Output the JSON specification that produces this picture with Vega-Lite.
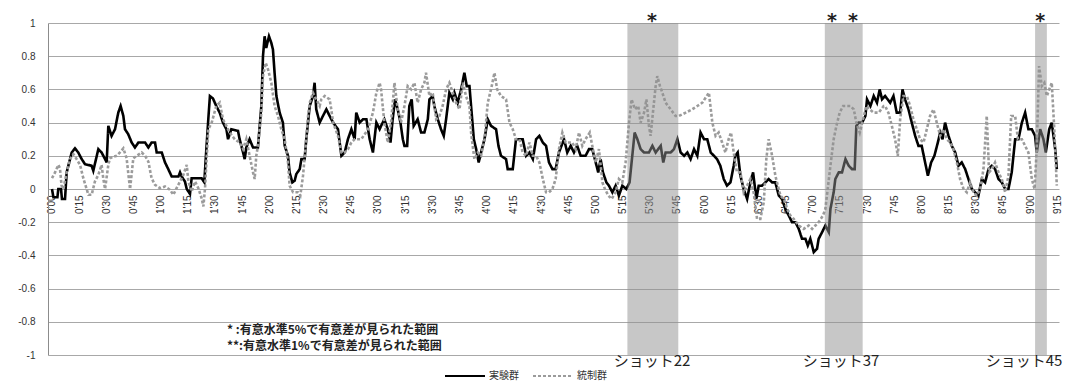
{
"$schema":"https://vega.github.io/schema/vega-lite/v6.json",
"width":1011,"height":332,
"autosize":{"type":"none"},
"padding":{"left":48,"top":23,"right":14,"bottom":30},
"background":"white",
"config":{"view":{"stroke":null},"font":"Liberation Sans"},
"datasets":{
"series":[
{"g":"実験群","t":0,"v":0},{"g":"実験群","t":0.8,"v":-0.05},{"g":"実験群","t":3,"v":-0.05},{"g":"実験群","t":3.5,"v":0},{"g":"実験群","t":5,"v":0},{"g":"実験群","t":5.5,"v":-0.06},{"g":"実験群","t":7.2,"v":-0.06},{"g":"実験群","t":8.1,"v":0.1},{"g":"実験群","t":10.9,"v":0.22},{"g":"実験群","t":12.7,"v":0.245},{"g":"実験群","t":14.5,"v":0.22},{"g":"実験群","t":16.4,"v":0.18},{"g":"実験群","t":18.2,"v":0.15},{"g":"実験群","t":21.9,"v":0.14},{"g":"実験群","t":22.8,"v":0.11},{"g":"実験群","t":25.6,"v":0.24},{"g":"実験群","t":27.4,"v":0.22},{"g":"実験群","t":29.3,"v":0.18},{"g":"実験群","t":30.2,"v":0.16},{"g":"実験群","t":31.1,"v":0.38},{"g":"実験群","t":32.9,"v":0.32},{"g":"実験群","t":34.8,"v":0.36},{"g":"実験群","t":36.6,"v":0.46},{"g":"実験群","t":37.9,"v":0.5},{"g":"実験群","t":39.4,"v":0.44},{"g":"実験群","t":40.3,"v":0.36},{"g":"実験群","t":42.1,"v":0.33},{"g":"実験群","t":44.0,"v":0.28},{"g":"実験群","t":45.8,"v":0.25},{"g":"実験群","t":47.7,"v":0.28},{"g":"実験群","t":51.4,"v":0.28},{"g":"実験群","t":53.2,"v":0.25},{"g":"実験群","t":55.0,"v":0.28},{"g":"実験群","t":56.9,"v":0.28},{"g":"実験群","t":57.8,"v":0.22},{"g":"実験群","t":60.6,"v":0.22},{"g":"実験群","t":62.4,"v":0.16},{"g":"実験群","t":64.2,"v":0.12},{"g":"実験群","t":66.1,"v":0.075},{"g":"実験群","t":69.8,"v":0.075},{"g":"実験群","t":70.7,"v":0.1},{"g":"実験群","t":71.6,"v":0.075},{"g":"実験群","t":73.4,"v":0.045},{"g":"実験群","t":74.4,"v":0},{"g":"実験群","t":76.2,"v":-0.03},{"g":"実験群","t":77.1,"v":0.065},{"g":"実験群","t":82.6,"v":0.065},{"g":"実験群","t":84.1,"v":0.04},{"g":"実験群","t":85.0,"v":0.2},{"g":"実験群","t":86.3,"v":0.42},{"g":"実験群","t":87.2,"v":0.56},
{"g":"実験群","t":88.9,"v":0.545},{"g":"実験群","t":90.7,"v":0.5},{"g":"実験群","t":92.6,"v":0.46},{"g":"実験群","t":94.4,"v":0.4},{"g":"実験群","t":96.3,"v":0.36},{"g":"実験群","t":97.2,"v":0.3},{"g":"実験群","t":99.0,"v":0.36},{"g":"実験群","t":102.7,"v":0.35},{"g":"実験群","t":103.6,"v":0.3},{"g":"実験群","t":105.5,"v":0.22},{"g":"実験群","t":106.4,"v":0.18},{"g":"実験群","t":107.3,"v":0.25},{"g":"実験群","t":109.1,"v":0.3},{"g":"実験群","t":111.0,"v":0.25},{"g":"実験群","t":113.7,"v":0.25},{"g":"実験群","t":115.6,"v":0.5},{"g":"実験群","t":116.5,"v":0.8},{"g":"実験群","t":117.4,"v":0.92},{"g":"実験群","t":118.3,"v":0.85},{"g":"実験群","t":119.8,"v":0.92},{"g":"実験群","t":121.1,"v":0.88},{"g":"実験群","t":122.0,"v":0.84},{"g":"実験群","t":122.9,"v":0.7},{"g":"実験群","t":123.9,"v":0.56},{"g":"実験群","t":125.7,"v":0.46},{"g":"実験群","t":127.5,"v":0.4},{"g":"実験群","t":128.5,"v":0.26},{"g":"実験群","t":130.3,"v":0.2},{"g":"実験群","t":131.2,"v":0.1},{"g":"実験群","t":132.7,"v":0.04},{"g":"実験群","t":134.0,"v":0.05},{"g":"実験群","t":134.9,"v":0.09},{"g":"実験群","t":136.8,"v":0.12},{"g":"実験群","t":137.7,"v":0.18},{"g":"実験群","t":139.5,"v":0.18},{"g":"実験群","t":140.4,"v":0.3},{"g":"実験群","t":142.3,"v":0.5},{"g":"実験群","t":144.1,"v":0.56},{"g":"実験群","t":145.0,"v":0.64},{"g":"実験群","t":145.9,"v":0.48},{"g":"実験群","t":147.8,"v":0.4},{"g":"実験群","t":149.6,"v":0.44},{"g":"実験群","t":151.5,"v":0.48},{"g":"実験群","t":153.3,"v":0.44},{"g":"実験群","t":155.2,"v":0.4},{"g":"実験群","t":157.9,"v":0.36},{"g":"実験群","t":159.8,"v":0.2},{"g":"実験群","t":161.6,"v":0.22},{"g":"実験群","t":163.4,"v":0.3},{"g":"実験群","t":165.3,"v":0.36},{"g":"実験群","t":167.1,"v":0.3},{"g":"実験群","t":168.0,"v":0.46},{"g":"実験群","t":169.9,"v":0.4},{"g":"実験群","t":171.7,"v":0.42},{"g":"実験群","t":173.6,"v":0.42},{"g":"実験群","t":175.4,"v":0.3},{"g":"実験群","t":177.2,"v":0.22},{"g":"実験群","t":179.1,"v":0.4},{"g":"実験群","t":180.9,"v":0.36},
{"g":"実験群","t":181.7,"v":0.38},{"g":"実験群","t":183.5,"v":0.42},{"g":"実験群","t":185.4,"v":0.36},{"g":"実験群","t":186.9,"v":0.28},{"g":"実験群","t":188.1,"v":0.42},{"g":"実験群","t":189.4,"v":0.54},{"g":"実験群","t":190.9,"v":0.48},{"g":"実験群","t":192.4,"v":0.4},{"g":"実験群","t":193.7,"v":0.3},{"g":"実験群","t":194.6,"v":0.26},{"g":"実験群","t":196.1,"v":0.26},{"g":"実験群","t":197.3,"v":0.5},{"g":"実験群","t":198.6,"v":0.54},{"g":"実験群","t":199.7,"v":0.38},{"g":"実験群","t":201.9,"v":0.42},{"g":"実験群","t":203.8,"v":0.34},{"g":"実験群","t":205.6,"v":0.34},{"g":"実験群","t":207.5,"v":0.42},{"g":"実験群","t":208.4,"v":0.54},{"g":"実験群","t":210.2,"v":0.56},{"g":"実験群","t":211.1,"v":0.5},{"g":"実験群","t":213.0,"v":0.42},{"g":"実験群","t":214.8,"v":0.36},{"g":"実験群","t":216.3,"v":0.32},{"g":"実験群","t":217.6,"v":0.42},{"g":"実験群","t":219.4,"v":0.58},{"g":"実験群","t":221.3,"v":0.54},{"g":"実験群","t":222.2,"v":0.58},{"g":"実験群","t":224.0,"v":0.52},{"g":"実験群","t":225.9,"v":0.6},{"g":"実験群","t":227.7,"v":0.7},{"g":"実験群","t":229.0,"v":0.62},{"g":"実験群","t":230.5,"v":0.62},{"g":"実験群","t":231.4,"v":0.5},{"g":"実験群","t":232.9,"v":0.3},{"g":"実験群","t":234.2,"v":0.24},{"g":"実験群","t":235.6,"v":0.16},{"g":"実験群","t":236.9,"v":0.22},{"g":"実験群","t":238.8,"v":0.3},{"g":"実験群","t":240.6,"v":0.42},{"g":"実験群","t":242.4,"v":0.38},{"g":"実験群","t":245.2,"v":0.36},{"g":"実験群","t":246.5,"v":0.26},{"g":"実験群","t":247.9,"v":0.2},{"g":"実験群","t":250.7,"v":0.18},{"g":"実験群","t":251.6,"v":0.12},{"g":"実験群","t":254.4,"v":0.12},{"g":"実験群","t":256.2,"v":0.3},{"g":"実験群","t":259.9,"v":0.3},{"g":"実験群","t":261.8,"v":0.2},{"g":"実験群","t":263.6,"v":0.22},{"g":"実験群","t":265.5,"v":0.18},{"g":"実験群","t":267.3,"v":0.3},{"g":"実験群","t":269.1,"v":0.32},{"g":"実験群","t":271.0,"v":0.28},{"g":"実験群","t":272.8,"v":0.26},
{"g":"実験群","t":274.4,"v":0.16},{"g":"実験群","t":276.3,"v":0.12},{"g":"実験群","t":278.1,"v":0.12},{"g":"実験群","t":279.9,"v":0.22},{"g":"実験群","t":282.7,"v":0.3},{"g":"実験群","t":284.5,"v":0.22},{"g":"実験群","t":286.4,"v":0.26},{"g":"実験群","t":288.2,"v":0.22},{"g":"実験群","t":290.0,"v":0.26},{"g":"実験群","t":291.9,"v":0.2},{"g":"実験群","t":294.6,"v":0.2},{"g":"実験群","t":296.5,"v":0.24},{"g":"実験群","t":298.3,"v":0.24},{"g":"実験群","t":300.2,"v":0.16},{"g":"実験群","t":301.6,"v":0.1},{"g":"実験群","t":302.9,"v":0.18},{"g":"実験群","t":304.2,"v":0.1},{"g":"実験群","t":306.1,"v":0.04},{"g":"実験群","t":307.5,"v":0.02},{"g":"実験群","t":309.4,"v":-0.02},{"g":"実験群","t":311.2,"v":0.02},{"g":"実験群","t":313.0,"v":-0.04},{"g":"実験群","t":314.9,"v":0.02},{"g":"実験群","t":317.1,"v":0.0},{"g":"実験群","t":318.9,"v":0.04},{"g":"実験群","t":320.4,"v":0.2},{"g":"実験群","t":321.7,"v":0.34},{"g":"実験群","t":323.2,"v":0.3},{"g":"実験群","t":325.0,"v":0.24},{"g":"実験群","t":326.9,"v":0.22},{"g":"実験群","t":329.6,"v":0.22},{"g":"実験群","t":331.5,"v":0.26},{"g":"実験群","t":333.3,"v":0.22},{"g":"実験群","t":336.1,"v":0.26},{"g":"実験群","t":337.5,"v":0.16},{"g":"実験群","t":338.8,"v":0.22},{"g":"実験群","t":341.6,"v":0.22},{"g":"実験群","t":343.4,"v":0.24},{"g":"実験群","t":345.3,"v":0.3},{"g":"実験群","t":347.1,"v":0.22},{"g":"実験群","t":349.0,"v":0.2},{"g":"実験群","t":350.8,"v":0.22},{"g":"実験群","t":352.6,"v":0.18},{"g":"実験群","t":354.5,"v":0.24},{"g":"実験群","t":356.3,"v":0.2},{"g":"実験群","t":358.1,"v":0.34},{"g":"実験群","t":360.0,"v":0.3},{"g":"実験群","t":361.8,"v":0.3},{"g":"実験群","t":363.7,"v":0.22},{"g":"実験群","t":365.5,"v":0.2},
{"g":"実験群","t":367.2,"v":0.18},{"g":"実験群","t":369.0,"v":0.14},{"g":"実験群","t":370.9,"v":0.06},{"g":"実験群","t":372.7,"v":0.02},{"g":"実験群","t":374.6,"v":0.04},{"g":"実験群","t":376.4,"v":0.14},{"g":"実験群","t":377.3,"v":0.2},{"g":"実験群","t":378.6,"v":0.22},{"g":"実験群","t":380.1,"v":0.08},{"g":"実験群","t":381.9,"v":0.0},{"g":"実験群","t":383.8,"v":-0.06},{"g":"実験群","t":385.6,"v":0.04},{"g":"実験群","t":387.1,"v":0.1},{"g":"実験群","t":388.9,"v":-0.06},{"g":"実験群","t":390.2,"v":0.02},{"g":"実験群","t":392.0,"v":0.02},{"g":"実験群","t":393.9,"v":0.04},{"g":"実験群","t":395.7,"v":0.06},{"g":"実験群","t":397.6,"v":0.04},{"g":"実験群","t":399.4,"v":0.04},{"g":"実験群","t":401.3,"v":-0.04},{"g":"実験群","t":403.1,"v":-0.06},{"g":"実験群","t":404.9,"v":-0.12},{"g":"実験群","t":406.8,"v":-0.16},{"g":"実験群","t":408.6,"v":-0.2},{"g":"実験群","t":410.5,"v":-0.2},{"g":"実験群","t":412.3,"v":-0.24},{"g":"実験群","t":414.1,"v":-0.3},{"g":"実験群","t":416.0,"v":-0.3},{"g":"実験群","t":417.3,"v":-0.34},{"g":"実験群","t":418.7,"v":-0.3},{"g":"実験群","t":420.6,"v":-0.38},{"g":"実験群","t":422.4,"v":-0.36},{"g":"実験群","t":423.3,"v":-0.3},{"g":"実験群","t":425.2,"v":-0.26},{"g":"実験群","t":427.0,"v":-0.22},{"g":"実験群","t":428.9,"v":-0.26},{"g":"実験群","t":429.8,"v":-0.12},{"g":"実験群","t":431.6,"v":-0.02},{"g":"実験群","t":432.5,"v":0.06},{"g":"実験群","t":434.4,"v":0.1},{"g":"実験群","t":436.2,"v":0.1},{"g":"実験群","t":438.1,"v":0.18},{"g":"実験群","t":439.9,"v":0.14},{"g":"実験群","t":441.7,"v":0.12},{"g":"実験群","t":443.2,"v":0.12},{"g":"実験群","t":444.1,"v":0.38},{"g":"実験群","t":445.4,"v":0.4},{"g":"実験群","t":447.3,"v":0.4},{"g":"実験群","t":449.1,"v":0.44},{"g":"実験群","t":450.0,"v":0.54},{"g":"実験群","t":451.9,"v":0.5},{"g":"実験群","t":453.7,"v":0.56},{"g":"実験群","t":455.5,"v":0.52},{"g":"実験群","t":457.0,"v":0.6},{"g":"実験群","t":458.3,"v":0.54},
{"g":"実験群","t":460.0,"v":0.56},{"g":"実験群","t":462.8,"v":0.52},{"g":"実験群","t":464.6,"v":0.56},{"g":"実験群","t":466.4,"v":0.46},{"g":"実験群","t":468.3,"v":0.46},{"g":"実験群","t":469.6,"v":0.6},{"g":"実験群","t":471.0,"v":0.54},{"g":"実験群","t":472.9,"v":0.48},{"g":"実験群","t":474.7,"v":0.4},{"g":"実験群","t":476.6,"v":0.32},{"g":"実験群","t":478.4,"v":0.26},{"g":"実験群","t":480.2,"v":0.26},{"g":"実験群","t":481.7,"v":0.18},{"g":"実験群","t":483.6,"v":0.08},{"g":"実験群","t":485.4,"v":0.16},{"g":"実験群","t":487.2,"v":0.2},{"g":"実験群","t":489.1,"v":0.28},{"g":"実験群","t":490.4,"v":0.34},{"g":"実験群","t":491.7,"v":0.3},{"g":"実験群","t":493.1,"v":0.4},{"g":"実験群","t":495.0,"v":0.32},{"g":"実験群","t":496.8,"v":0.26},{"g":"実験群","t":498.7,"v":0.22},{"g":"実験群","t":500.5,"v":0.14},{"g":"実験群","t":502.3,"v":0.16},{"g":"実験群","t":504.2,"v":0.12},{"g":"実験群","t":506.0,"v":0.06},{"g":"実験群","t":507.9,"v":0.0},{"g":"実験群","t":509.7,"v":-0.02},{"g":"実験群","t":511.5,"v":-0.04},{"g":"実験群","t":513.4,"v":0.06},{"g":"実験群","t":515.2,"v":0.04},{"g":"実験群","t":517.1,"v":0.12},{"g":"実験群","t":518.9,"v":0.14},{"g":"実験群","t":520.7,"v":0.12},{"g":"実験群","t":522.6,"v":0.06},{"g":"実験群","t":524.4,"v":0.04},{"g":"実験群","t":526.3,"v":0.0},{"g":"実験群","t":528.1,"v":0.0},{"g":"実験群","t":529.9,"v":0.1},{"g":"実験群","t":531.8,"v":0.3},{"g":"実験群","t":533.6,"v":0.3},{"g":"実験群","t":535.5,"v":0.4},{"g":"実験群","t":537.3,"v":0.46},{"g":"実験群","t":539.1,"v":0.36},{"g":"実験群","t":541.0,"v":0.36},{"g":"実験群","t":542.8,"v":0.32},{"g":"実験群","t":543.7,"v":0.22},{"g":"実験群","t":545.6,"v":0.36},{"g":"実験群","t":547.4,"v":0.3},{"g":"実験群","t":548.7,"v":0.22},{"g":"実験群","t":550.6,"v":0.36},{"g":"実験群","t":552.0,"v":0.4},{"g":"実験群","t":553.9,"v":0.24},{"g":"実験群","t":554.8,"v":0.12},
{"g":"統制群","t":0,"v":0.065},{"g":"統制群","t":1.7,"v":0.1},{"g":"統制群","t":3.5,"v":0.145},{"g":"統制群","t":4.4,"v":0.125},{"g":"統制群","t":5.3,"v":0.02},{"g":"統制群","t":6.3,"v":0},{"g":"統制群","t":8.1,"v":0.1},{"g":"統制群","t":10.0,"v":0.18},{"g":"統制群","t":11.8,"v":0.21},{"g":"統制群","t":13.6,"v":0.18},{"g":"統制群","t":15.5,"v":0.145},{"g":"統制群","t":17.3,"v":0.065},{"g":"統制群","t":20.1,"v":-0.035},{"g":"統制群","t":21.9,"v":-0.035},{"g":"統制群","t":23.7,"v":0.045},{"g":"統制群","t":25.6,"v":0.085},{"g":"統制群","t":27.4,"v":0.145},{"g":"統制群","t":28.3,"v":0.065},{"g":"統制群","t":29.3,"v":0.0},{"g":"統制群","t":31.1,"v":0.145},{"g":"統制群","t":32.0,"v":0.185},{"g":"統制群","t":33.9,"v":0.195},{"g":"統制群","t":35.7,"v":0.2},{"g":"統制群","t":37.5,"v":0.22},{"g":"統制群","t":39.4,"v":0.245},{"g":"統制群","t":41.2,"v":0.185},{"g":"統制群","t":43.1,"v":0.0},{"g":"統制群","t":44.9,"v":0.185},{"g":"統制群","t":46.8,"v":0.2},{"g":"統制群","t":49.5,"v":0.22},{"g":"統制群","t":51.4,"v":0.2},{"g":"統制群","t":53.2,"v":0.165},{"g":"統制群","t":55.0,"v":0.065},{"g":"統制群","t":56.9,"v":0.025},{"g":"統制群","t":59.6,"v":0.005},{"g":"統制群","t":62.4,"v":0.015},{"g":"統制群","t":65.2,"v":-0.005},{"g":"統制群","t":67.0,"v":-0.035},{"g":"統制群","t":68.8,"v":0.005},{"g":"統制群","t":70.7,"v":0.045},{"g":"統制群","t":72.5,"v":0.085},{"g":"統制群","t":74.4,"v":0.145},{"g":"統制群","t":75.3,"v":0.045},{"g":"統制群","t":77.1,"v":-0.015},{"g":"統制群","t":79.0,"v":0.045},{"g":"統制群","t":80.8,"v":0.005},{"g":"統制群","t":82.6,"v":-0.055},{"g":"統制群","t":83.6,"v":-0.105},{"g":"統制群","t":84.5,"v":0.005},{"g":"統制群","t":85.4,"v":0.185},{"g":"統制群","t":86.3,"v":0.36},{"g":"統制群","t":88.2,"v":0.4},
{"g":"統制群","t":90.7,"v":0.5},{"g":"統制群","t":92.6,"v":0.52},{"g":"統制群","t":94.4,"v":0.42},{"g":"統制群","t":96.3,"v":0.38},{"g":"統制群","t":98.1,"v":0.34},{"g":"統制群","t":100.9,"v":0.3},{"g":"統制群","t":103.6,"v":0.28},{"g":"統制群","t":105.5,"v":0.24},{"g":"統制群","t":107.3,"v":0.3},{"g":"統制群","t":109.1,"v":0.2},{"g":"統制群","t":111.0,"v":0.1},{"g":"統制群","t":111.9,"v":0.06},{"g":"統制群","t":112.8,"v":0.2},{"g":"統制群","t":113.7,"v":0.26},{"g":"統制群","t":115.6,"v":0.46},{"g":"統制群","t":116.5,"v":0.68},{"g":"統制群","t":118.0,"v":0.76},{"g":"統制群","t":119.3,"v":0.72},{"g":"統制群","t":121.1,"v":0.64},{"g":"統制群","t":122.9,"v":0.5},{"g":"統制群","t":124.8,"v":0.44},{"g":"統制群","t":126.6,"v":0.36},{"g":"統制群","t":128.5,"v":0.3},{"g":"統制群","t":130.3,"v":0.16},{"g":"統制群","t":131.2,"v":0.02},{"g":"統制群","t":133.1,"v":-0.02},{"g":"統制群","t":135.8,"v":-0.02},{"g":"統制群","t":137.1,"v":-0.04},{"g":"統制群","t":138.6,"v":0.08},{"g":"統制群","t":140.4,"v":0.3},{"g":"統制群","t":141.4,"v":0.44},{"g":"統制群","t":142.3,"v":0.52},{"g":"統制群","t":144.1,"v":0.58},{"g":"統制群","t":145.9,"v":0.54},{"g":"統制群","t":147.8,"v":0.5},{"g":"統制群","t":148.7,"v":0.54},{"g":"統制群","t":150.6,"v":0.56},{"g":"統制群","t":153.3,"v":0.54},{"g":"統制群","t":154.2,"v":0.48},{"g":"統制群","t":155.2,"v":0.4},{"g":"統制群","t":157.9,"v":0.32},{"g":"統制群","t":159.8,"v":0.22},{"g":"統制群","t":161.6,"v":0.22},{"g":"統制群","t":163.4,"v":0.24},{"g":"統制群","t":165.3,"v":0.28},{"g":"統制群","t":167.1,"v":0.3},{"g":"統制群","t":168.9,"v":0.3},{"g":"統制群","t":170.8,"v":0.3},{"g":"統制群","t":174.5,"v":0.36},{"g":"統制群","t":177.2,"v":0.46},{"g":"統制群","t":179.1,"v":0.58},{"g":"統制群","t":180.9,"v":0.64},
{"g":"統制群","t":181.7,"v":0.6},{"g":"統制群","t":183.5,"v":0.4},{"g":"統制群","t":185.4,"v":0.28},{"g":"統制群","t":187.2,"v":0.4},{"g":"統制群","t":189.1,"v":0.64},{"g":"統制群","t":190.9,"v":0.48},{"g":"統制群","t":192.7,"v":0.4},{"g":"統制群","t":194.6,"v":0.5},{"g":"統制群","t":196.4,"v":0.62},{"g":"統制群","t":198.3,"v":0.6},{"g":"統制群","t":200.1,"v":0.64},{"g":"統制群","t":201.9,"v":0.52},{"g":"統制群","t":203.8,"v":0.6},{"g":"統制群","t":205.6,"v":0.64},{"g":"統制群","t":206.5,"v":0.7},{"g":"統制群","t":208.4,"v":0.56},{"g":"統制群","t":210.2,"v":0.58},{"g":"統制群","t":212.1,"v":0.42},{"g":"統制群","t":213.9,"v":0.44},{"g":"統制群","t":215.7,"v":0.5},{"g":"統制群","t":217.6,"v":0.6},{"g":"統制群","t":219.4,"v":0.64},{"g":"統制群","t":221.3,"v":0.58},{"g":"統制群","t":223.1,"v":0.52},{"g":"統制群","t":225.0,"v":0.48},{"g":"統制群","t":226.8,"v":0.64},{"g":"統制群","t":228.6,"v":0.56},{"g":"統制群","t":230.5,"v":0.5},{"g":"統制群","t":231.4,"v":0.34},{"g":"統制群","t":233.2,"v":0.18},{"g":"統制群","t":235.1,"v":0.22},{"g":"統制群","t":236.9,"v":0.2},{"g":"統制群","t":238.8,"v":0.3},{"g":"統制群","t":240.6,"v":0.52},{"g":"統制群","t":242.4,"v":0.6},{"g":"統制群","t":244.3,"v":0.7},{"g":"統制群","t":245.8,"v":0.6},{"g":"統制群","t":247.9,"v":0.56},{"g":"統制群","t":250.7,"v":0.54},{"g":"統制群","t":252.6,"v":0.4},{"g":"統制群","t":254.4,"v":0.36},{"g":"統制群","t":256.2,"v":0.3},{"g":"統制群","t":258.1,"v":0.3},{"g":"統制群","t":259.9,"v":0.22},{"g":"統制群","t":261.8,"v":0.2},{"g":"統制群","t":263.6,"v":0.28},{"g":"統制群","t":265.5,"v":0.2},{"g":"統制群","t":267.3,"v":0.2},{"g":"統制群","t":269.1,"v":0.16},{"g":"統制群","t":271.0,"v":0.06},{"g":"統制群","t":272.8,"v":-0.02},
{"g":"統制群","t":274.4,"v":-0.02},{"g":"統制群","t":276.3,"v":0.0},{"g":"統制群","t":278.1,"v":0.06},{"g":"統制群","t":279.9,"v":0.24},{"g":"統制群","t":281.8,"v":0.34},{"g":"統制群","t":283.6,"v":0.28},{"g":"統制群","t":285.4,"v":0.28},{"g":"統制群","t":287.3,"v":0.28},{"g":"統制群","t":289.1,"v":0.24},{"g":"統制群","t":291.0,"v":0.34},{"g":"統制群","t":292.8,"v":0.26},{"g":"統制群","t":294.6,"v":0.3},{"g":"統制群","t":296.9,"v":0.34},{"g":"統制群","t":298.3,"v":0.26},{"g":"統制群","t":300.2,"v":0.16},{"g":"統制群","t":302.0,"v":0.24},{"g":"統制群","t":303.9,"v":0.04},{"g":"統制群","t":305.3,"v":0.0},{"g":"統制群","t":307.2,"v":-0.04},{"g":"統制群","t":309.0,"v":-0.06},{"g":"統制群","t":311.2,"v":-0.02},{"g":"統制群","t":313.0,"v":0.06},{"g":"統制群","t":314.9,"v":0.04},{"g":"統制群","t":316.7,"v":0.16},{"g":"統制群","t":318.6,"v":0.4},{"g":"統制群","t":320.0,"v":0.54},{"g":"統制群","t":321.9,"v":0.48},{"g":"統制群","t":323.7,"v":0.5},{"g":"統制群","t":325.0,"v":0.4},{"g":"統制群","t":326.9,"v":0.46},{"g":"統制群","t":328.2,"v":0.54},{"g":"統制群","t":329.6,"v":0.38},{"g":"統制群","t":330.5,"v":0.32},{"g":"統制群","t":331.8,"v":0.46},{"g":"統制群","t":333.3,"v":0.62},{"g":"統制群","t":334.2,"v":0.68},{"g":"統制群","t":335.7,"v":0.62},{"g":"統制群","t":337.0,"v":0.58},{"g":"統制群","t":338.8,"v":0.52},{"g":"統制群","t":341.6,"v":0.48},{"g":"統制群","t":344.3,"v":0.44},{"g":"統制群","t":346.2,"v":0.44},{"g":"統制群","t":349.9,"v":0.46},{"g":"統制群","t":353.5,"v":0.48},{"g":"統制群","t":356.3,"v":0.5},{"g":"統制群","t":359.1,"v":0.52},{"g":"統制群","t":362.7,"v":0.58},{"g":"統制群","t":364.6,"v":0.4},{"g":"統制群","t":366.4,"v":0.32},
{"g":"統制群","t":368.1,"v":0.34},{"g":"統制群","t":370.0,"v":0.28},{"g":"統制群","t":371.8,"v":0.22},{"g":"統制群","t":373.6,"v":0.3},{"g":"統制群","t":374.9,"v":0.34},{"g":"統制群","t":376.4,"v":0.22},{"g":"統制群","t":378.2,"v":0.1},{"g":"統制群","t":380.1,"v":0.1},{"g":"統制群","t":381.9,"v":-0.02},{"g":"統制群","t":383.8,"v":0.02},{"g":"統制群","t":385.6,"v":0.06},{"g":"統制群","t":387.4,"v":-0.02},{"g":"統制群","t":389.3,"v":-0.18},{"g":"統制群","t":391.1,"v":-0.18},{"g":"統制群","t":393.0,"v":-0.08},{"g":"統制群","t":394.4,"v":0.18},{"g":"統制群","t":395.7,"v":0.3},{"g":"統制群","t":397.6,"v":0.2},{"g":"統制群","t":399.4,"v":0.08},{"g":"統制群","t":400.3,"v":0.04},{"g":"統制群","t":402.2,"v":-0.04},{"g":"統制群","t":404.0,"v":-0.06},{"g":"統制群","t":405.9,"v":-0.12},{"g":"統制群","t":407.7,"v":-0.16},{"g":"統制群","t":409.5,"v":-0.18},{"g":"統制群","t":412.3,"v":-0.22},{"g":"統制群","t":415.1,"v":-0.24},{"g":"統制群","t":417.8,"v":-0.22},{"g":"統制群","t":419.7,"v":-0.24},{"g":"統制群","t":421.5,"v":-0.22},{"g":"統制群","t":423.3,"v":-0.2},{"g":"統制群","t":425.7,"v":-0.16},{"g":"統制群","t":427.0,"v":-0.12},{"g":"統制群","t":428.3,"v":0.0},{"g":"統制群","t":429.8,"v":0.14},{"g":"統制群","t":431.6,"v":0.3},{"g":"統制群","t":433.1,"v":0.38},{"g":"統制群","t":434.9,"v":0.46},{"g":"統制群","t":436.8,"v":0.5},{"g":"統制群","t":440.8,"v":0.5},{"g":"統制群","t":442.7,"v":0.48},{"g":"統制群","t":444.1,"v":0.4},{"g":"統制群","t":446.0,"v":0.34},{"g":"統制群","t":447.8,"v":0.42},{"g":"統制群","t":449.7,"v":0.5},{"g":"統制群","t":451.5,"v":0.48},{"g":"統制群","t":453.7,"v":0.46},{"g":"統制群","t":456.5,"v":0.46},{"g":"統制群","t":459.2,"v":0.5},
{"g":"統制群","t":460.0,"v":0.5},{"g":"統制群","t":461.8,"v":0.46},{"g":"統制群","t":463.7,"v":0.38},{"g":"統制群","t":465.5,"v":0.3},{"g":"統制群","t":467.0,"v":0.2},{"g":"統制群","t":468.3,"v":0.42},{"g":"統制群","t":470.1,"v":0.56},{"g":"統制群","t":472.0,"v":0.56},{"g":"統制群","t":473.8,"v":0.5},{"g":"統制群","t":475.6,"v":0.42},{"g":"統制群","t":477.5,"v":0.36},{"g":"統制群","t":479.3,"v":0.3},{"g":"統制群","t":481.2,"v":0.28},{"g":"統制群","t":483.0,"v":0.36},{"g":"統制群","t":484.8,"v":0.44},{"g":"統制群","t":486.7,"v":0.48},{"g":"統制群","t":488.5,"v":0.4},{"g":"統制群","t":490.4,"v":0.32},{"g":"統制群","t":492.2,"v":0.36},{"g":"統制群","t":494.0,"v":0.3},{"g":"統制群","t":495.9,"v":0.28},{"g":"統制群","t":497.7,"v":0.24},{"g":"統制群","t":499.6,"v":0.16},{"g":"統制群","t":501.4,"v":0.06},{"g":"統制群","t":503.3,"v":0.0},{"g":"統制群","t":505.1,"v":-0.02},{"g":"統制群","t":506.9,"v":0.04},{"g":"統制群","t":508.8,"v":-0.02},{"g":"統制群","t":510.6,"v":-0.04},{"g":"統制群","t":512.5,"v":0.0},{"g":"統制群","t":514.3,"v":0.12},{"g":"統制群","t":516.1,"v":0.44},{"g":"統制群","t":517.4,"v":0.1},{"g":"統制群","t":518.9,"v":0.12},{"g":"統制群","t":520.7,"v":0.16},{"g":"統制群","t":522.6,"v":0.1},{"g":"統制群","t":524.4,"v":0.06},{"g":"統制群","t":526.3,"v":-0.02},{"g":"統制群","t":528.1,"v":0.08},{"g":"統制群","t":529.6,"v":0.44},{"g":"統制群","t":531.8,"v":0.44},{"g":"統制群","t":533.3,"v":0.3},{"g":"統制群","t":535.5,"v":0.3},{"g":"統制群","t":537.3,"v":0.26},{"g":"統制群","t":539.1,"v":0.22},{"g":"統制群","t":541.0,"v":0.06},{"g":"統制群","t":542.5,"v":0.0},{"g":"統制群","t":543.7,"v":0.24},{"g":"統制群","t":545.0,"v":0.74},{"g":"統制群","t":546.5,"v":0.62},{"g":"統制群","t":547.9,"v":0.64},{"g":"統制群","t":549.3,"v":0.56},{"g":"統制群","t":550.6,"v":0.6},{"g":"統制群","t":552.0,"v":0.64},{"g":"統制群","t":553.3,"v":0.38},{"g":"統制群","t":554.8,"v":0.02}
],
"bands":[{"t":317.7,"t2":345.8,"v":-1,"v2":1},{"t":426.7,"t2":447.6,"v":-1,"v2":1},{"t":542.8,"t2":549.3,"v":-1,"v2":1}],
"stars":[{"t":331.3,"v":0.975,"label":"*"},{"t":430.7,"v":0.975,"label":"*"},{"t":442.3,"v":0.975,"label":"*"},{"t":545.6,"v":0.975,"label":"*"}],
"shots":[{"t":331.3,"v":-1.038,"label":"ショット22"},{"t":435.7,"v":-1.038,"label":"ショット37"},{"t":536.7,"v":-1.038,"label":"ショット45"}],
"notes":[{"t":96.6,"v":-0.852,"label":"*  :有意水準5%で有意差が見られた範囲"},{"t":96.6,"v":-0.945,"label":"**:有意水準1%で有意差が見られた範囲"}]
},
"encoding":{
  "x":{"field":"t","type":"quantitative","scale":{"domain":[-2.2,556],"nice":false,"zero":false},
   "axis":{"title":null,"values":[0,15,30,45,60,75,90,105,120,135,150,165,180,195,210,225,240,255,270,285,300,315,330,345,360,375,390,405,420,435,450,465,480,495,510,525,540,555],
    "labelExpr":"floor(datum.value/60) + \"'\" + (datum.value % 60 < 10 ? '0' : '') + (datum.value % 60)",
    "labelAngle":270,"labelAlign":"right","labelBaseline":"middle","labelFontSize":10,"labelColor":"#333333","labelPadding":6,
    "offset":-166,"domain":false,"ticks":false,"grid":false,"labelOverlap":false,"labelFlush":false}},
  "y":{"field":"v","type":"quantitative","scale":{"domain":[-1,1],"nice":false,"zero":false},
   "axis":{"title":null,"values":[-1,-0.8,-0.6,-0.4,-0.2,0,0.2,0.4,0.6,0.8,1],
    "labelExpr":"datum.value < 0 ? '-' + format(-datum.value, '.1~f') : format(datum.value, '.1~f')",
    "labelFontSize":10,"labelColor":"#333333","labelPadding":13,"ticks":false,"domain":true,"domainColor":"#8c8c8c","labelOverlap":false,
    "grid":true,"gridColor":"#a8a8a8","gridWidth":1}}
},
"layer":[
{"data":{"name":"series"},
 "mark":{"type":"line","strokeWidth":2.6,"clip":true},
 "encoding":{
  "color":{"field":"g","type":"nominal","scale":{"domain":["実験群","統制群"],"range":["#000000","#9b9b9b"]},
   "legend":{"title":null,"orient":"none","legendX":396,"legendY":332,"direction":"horizontal","symbolType":"stroke","symbolSize":1600,"symbolStrokeWidth":2,"labelFont":"Noto Sans CJK JP","labelFontSize":10,"labelColor":"#333333","columnPadding":10,"labelOffset":3}},
  "strokeDash":{"field":"g","type":"nominal","scale":{"domain":["実験群","統制群"],"range":[[1,0],[3,2]]},
   "legend":{"title":null,"orient":"none","legendX":396,"legendY":332,"direction":"horizontal","symbolType":"stroke","symbolSize":1600,"symbolStrokeWidth":2,"labelFont":"Noto Sans CJK JP","labelFontSize":10,"labelColor":"#333333","columnPadding":10,"labelOffset":3}}
 }},
{"data":{"name":"bands"},
 "mark":{"type":"rect","color":"#909090","opacity":0.5},
 "encoding":{"x2":{"field":"t2"},"y2":{"field":"v2"}}},
{"data":{"name":"stars"},
 "mark":{"type":"text","font":"DejaVu Sans","fontSize":19,"fontWeight":"bold","baseline":"alphabetic","align":"center","color":"#222222"},
 "encoding":{"text":{"field":"label"}}},
{"data":{"name":"shots"},
 "mark":{"type":"text","font":"Noto Sans CJK JP","fontSize":15,"baseline":"middle","align":"center","color":"#222222"},
 "encoding":{"text":{"field":"label"}}},
{"data":{"name":"notes"},
 "mark":{"type":"text","font":"Noto Sans CJK JP","fontSize":12,"fontWeight":"bold","baseline":"middle","align":"left","color":"#222222"},
 "encoding":{"text":{"field":"label"}}}
]
}
